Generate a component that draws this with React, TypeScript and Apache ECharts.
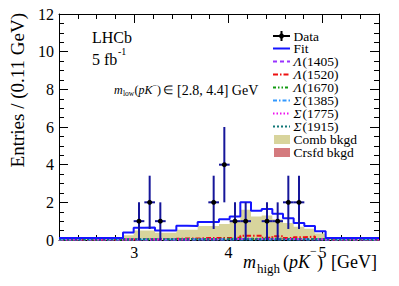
import React, { useEffect, useRef } from "react";
import * as echarts from "echarts";

// Histogram binning (30 bins over the axis range)
const binLo = 2.2;
const binHi = 5.6;
const nBins = 30;

// Data counts per bin
const dataCounts = [0, 0, 0, 0, 0, 0, 0, 1, 2, 1, 0, 0, 0, 0, 2, 4, 1, 1, 0, 1, 1, 2, 2, 0, 0, 0, 0, 0, 0, 0];
// Total fit per bin
const fitVals = [0.1, 0.1, 0.1, 0.1, 0.1, 0.1, 0.4, 0.65, 0.67, 0.5, 0.5, 0.76, 0.74, 0.95, 0.95, 1.1, 1.25, 2.0, 1.55, 1.65, 1.4, 1.15, 0.9, 0.75, 0.46, 0.1, 0.1, 0.1, 0.1, 0.1];
// Combinatorial background
const combVals = [0.05, 0.05, 0.05, 0.05, 0.05, 0.05, 0.25, 0.5, 0.5, 0.38, 0.38, 0.55, 0.55, 0.75, 0.75, 0.85, 1.0, 1.6, 1.25, 1.3, 1.1, 0.9, 0.7, 0.6, 0.35, 0.05, 0.05, 0.05, 0.05, 0.05];
// Cross-feed background
const crsfdVals = [0, 0, 0, 0, 0, 0, 0, 0, 0, 0, 0, 0, 0, 0, 0.03, 0.05, 0.05, 0.08, 0.08, 0.05, 0.08, 0.06, 0.05, 0.06, 0.03, 0, 0, 0, 0, 0];
// Signal components
const l1405Vals = [0.02, 0.02, 0.02, 0.02, 0.02, 0.02, 0.02, 0.03, 0.03, 0.03, 0.03, 0.03, 0.04, 0.04, 0.04, 0.05, 0.05, 0.05, 0.05, 0.05, 0.05, 0.05, 0.05, 0.04, 0.03, 0.02, 0.02, 0.02, 0.02, 0.02];
const l1520Vals = [0.02, 0.02, 0.02, 0.02, 0.02, 0.02, 0.03, 0.04, 0.04, 0.05, 0.06, 0.08, 0.08, 0.1, 0.1, 0.1, 0.12, 0.22, 0.22, 0.12, 0.2, 0.1, 0.15, 0.18, 0.05, 0.02, 0.02, 0.02, 0.02, 0.02];
const l1670Vals = [0.03, 0.03, 0.03, 0.03, 0.03, 0.03, 0.03, 0.04, 0.04, 0.04, 0.04, 0.05, 0.05, 0.05, 0.06, 0.06, 0.06, 0.06, 0.06, 0.06, 0.06, 0.05, 0.05, 0.05, 0.04, 0.03, 0.03, 0.03, 0.03, 0.03];
const s1385Vals = [0.02, 0.02, 0.02, 0.02, 0.02, 0.02, 0.02, 0.02, 0.02, 0.02, 0.02, 0.03, 0.03, 0.03, 0.03, 0.03, 0.03, 0.03, 0.03, 0.03, 0.03, 0.03, 0.03, 0.02, 0.02, 0.02, 0.02, 0.02, 0.02, 0.02];
const s1775Vals = [0.02, 0.02, 0.02, 0.02, 0.02, 0.02, 0.02, 0.03, 0.03, 0.03, 0.03, 0.03, 0.04, 0.04, 0.04, 0.04, 0.05, 0.05, 0.05, 0.05, 0.05, 0.05, 0.04, 0.04, 0.03, 0.02, 0.02, 0.02, 0.02, 0.02];
const s1915Vals = [0.04, 0.04, 0.04, 0.04, 0.04, 0.04, 0.04, 0.04, 0.04, 0.04, 0.04, 0.04, 0.04, 0.04, 0.04, 0.04, 0.04, 0.04, 0.04, 0.04, 0.04, 0.04, 0.04, 0.04, 0.04, 0.04, 0.04, 0.04, 0.04, 0.04];

const xMajorTicks = [3, 4, 5];

const FONT = '"Liberation Serif", "Times New Roman", serif';

const bw = (binHi - binLo) / nBins;
const edges = Array.from({ length: nBins }, (_, i) => binLo + i * bw);

function stepData(vals: number[]) {
  const d = vals.map((v, i) => [edges[i], v]);
  d.push([binHi, vals[vals.length - 1]]);
  return d;
}

const signalDefs = [
  { name: "Λ", num: "(1405)", vals: l1405Vals, color: "#9933ff", dash: [4, 3] },
  { name: "Λ", num: "(1520)", vals: l1520Vals, color: "#ee1111", dash: [5, 2, 1.5, 2] },
  { name: "Λ", num: "(1670)", vals: l1670Vals, color: "#119911", dash: [3, 2, 1.5, 2, 1.5, 2] },
  { name: "Σ", num: "(1385)", vals: s1385Vals, color: "#3399ff", dash: [4, 2, 1.5, 2] },
  { name: "Σ", num: "(1775)", vals: s1775Vals, color: "#ee11ee", dash: [1.5, 2] },
  { name: "Σ", num: "(1915)", vals: s1915Vals, color: "#117777", dash: [2, 2] },
];

function T(text: string, x: number, y: number, size: number, opts: any = {}) {
  return {
    type: "text",
    x,
    y,
    rotation: opts.rotation || 0,
    z: 100,
    style: {
      text,
      fill: "#000",
      font: `${opts.italic ? "italic " : ""}${size}px ${FONT}`,
      textAlign: opts.align || "left",
      textVerticalAlign: "middle",
    },
  };
}

export default function App() {
  const ref = useRef<HTMLDivElement>(null);
  useEffect(() => {
    document.body.style.margin = "0";
    const chart = echarts.init(ref.current!, null, { renderer: "svg" });

    const axisLineStyle = { color: "#000", width: 1 };
    const xBase = {
      type: "value",
      min: binLo,
      max: binHi,
      splitLine: { show: false },
    };

    const dataPts = dataCounts
      .map((n, i) => [binLo + (i + 0.5) * bw, n])
      .filter((d) => d[1] > 0);

    const legendX1 = 273;
    const legendX2 = 290;
    const legendTextX = 293.5;
    const LF = 13.5;
    const rowY = [36, 48.5, 61.5, 74.5, 87.5, 100.5, 113.5, 126.5, 139.5, 152.5];

    const graphics: any[] = [];
    // Legend: Data
    graphics.push({ type: "line", z: 100, shape: { x1: legendX1, y1: rowY[0], x2: legendX2, y2: rowY[0] }, style: { stroke: "#000", lineWidth: 2 } });
    graphics.push({ type: "line", z: 100, shape: { x1: 281.5, y1: rowY[0] - 5, x2: 281.5, y2: rowY[0] + 5 }, style: { stroke: "#000", lineWidth: 2 } });
    graphics.push({ type: "circle", z: 100, shape: { cx: 281.5, cy: rowY[0], r: 2.5 }, style: { fill: "#000" } });
    graphics.push(T("Data", legendTextX, rowY[0], LF));
    // Fit
    graphics.push({ type: "line", z: 100, shape: { x1: legendX1, y1: rowY[1], x2: legendX2, y2: rowY[1] }, style: { stroke: "#1515ff", lineWidth: 2 } });
    graphics.push(T("Fit", legendTextX, rowY[1], LF));
    signalDefs.forEach((s, i) => {
      const y = rowY[2 + i];
      graphics.push({ type: "line", z: 100, shape: { x1: legendX1, y1: y, x2: legendX2, y2: y }, style: { stroke: s.color, lineWidth: 2, lineDash: s.dash } });
      graphics.push(T(s.name, legendTextX, y, LF, { italic: true }));
      graphics.push(T(s.num, legendTextX + 9, y, LF));
    });
    graphics.push({ type: "rect", z: 100, shape: { x: legendX1 + 1, y: rowY[8] - 4.5, width: 16, height: 9 }, style: { fill: "#d8d49c" } });
    graphics.push(T("Comb bkgd", legendTextX, rowY[8], LF));
    graphics.push({ type: "rect", z: 100, shape: { x: legendX1 + 1, y: rowY[9] - 4.5, width: 16, height: 9 }, style: { fill: "#d47a7e" } });
    graphics.push(T("Crsfd bkgd", legendTextX, rowY[9], LF));

    // LHCb labels
    graphics.push(T("LHCb", 92, 37, 16));
    graphics.push(T("5 fb", 92, 59, 16));
    graphics.push(T("-1", 118, 51.5, 10));

    // m_low text
    graphics.push(T("m", 114, 90, 12, { italic: true }));
    graphics.push(T("low", 123, 93.5, 7.5));
    graphics.push(T("(", 134.5, 90, 12));
    graphics.push(T("pK", 138.5, 90, 12, { italic: true }));
    graphics.push(T("−", 152.5, 85, 8));
    graphics.push(T(")", 157, 90, 12));
    graphics.push(T("∈", 163, 90, 12));
    graphics.push(T("[2.8, 4.4] GeV", 177, 90, 14));

    // Y title
    graphics.push(T("Entries / (0.11 GeV)", 17, 13, 19, { align: "right", rotation: Math.PI / 2 }));

    // X title
    graphics.push(T("m", 243, 262, 18, { italic: true }));
    graphics.push(T("high", 257, 268.5, 13));
    graphics.push(T("(", 283, 262, 18));
    graphics.push(T("pK", 289, 262, 18, { italic: true }));
    graphics.push(T("−", 310, 250.5, 12));
    graphics.push(T(")", 317, 262, 18));
    graphics.push(T("[GeV]", 331, 262, 18));

    const option: any = {
      animation: false,
      grid: { left: 59, right: 20, top: 14, bottom: 46, containLabel: false },
      xAxis: [
        {
          ...xBase,
          position: "bottom",
          interval: 0.2,
          axisLine: { show: true, onZero: false, lineStyle: axisLineStyle },
          axisTick: { show: true, inside: true, length: 5, lineStyle: axisLineStyle },
          axisLabel: { show: false },
        },
        {
          ...xBase,
          position: "bottom",
          axisLine: { show: false, onZero: false },
          axisTick: { show: true, inside: true, length: 9, customValues: xMajorTicks, lineStyle: axisLineStyle },
          axisLabel: { show: true, customValues: xMajorTicks, color: "#000", fontFamily: FONT, fontSize: 16, margin: 4 },
        },
        {
          ...xBase,
          position: "top",
          interval: 0.2,
          axisLine: { show: true, onZero: false, lineStyle: axisLineStyle },
          axisTick: { show: true, inside: true, length: 5, lineStyle: axisLineStyle },
          axisLabel: { show: false },
        },
        {
          ...xBase,
          position: "top",
          axisLine: { show: false, onZero: false },
          axisTick: { show: true, inside: true, length: 9, customValues: xMajorTicks, lineStyle: axisLineStyle },
          axisLabel: { show: false },
        },
      ],
      yAxis: [
        {
          type: "value",
          min: 0,
          max: 12,
          interval: 2,
          position: "left",
          splitLine: { show: false },
          axisLine: { show: true, onZero: false, lineStyle: axisLineStyle },
          axisTick: { show: true, inside: true, length: 9, lineStyle: axisLineStyle },
          minorTick: { show: true, splitNumber: 4, length: 5, lineStyle: axisLineStyle },
          axisLabel: { color: "#000", fontFamily: FONT, fontSize: 16, margin: 5 },
        },
        {
          type: "value",
          min: 0,
          max: 12,
          interval: 2,
          position: "right",
          splitLine: { show: false },
          axisLine: { show: true, onZero: false, lineStyle: axisLineStyle },
          axisTick: { show: true, inside: true, length: 9, lineStyle: axisLineStyle },
          minorTick: { show: true, splitNumber: 4, length: 5, lineStyle: axisLineStyle },
          axisLabel: { show: false },
        },
      ],
      series: [
        {
          name: "Comb bkgd",
          type: "line",
          step: "end",
          data: stepData(combVals),
          symbol: "none",
          lineStyle: { width: 0, color: "#d8d49c" },
          areaStyle: { color: "#d8d49c", opacity: 1 },
          z: 1,
          silent: true,
        },
        {
          name: "Crsfd bkgd",
          type: "line",
          step: "end",
          data: stepData(crsfdVals),
          symbol: "none",
          lineStyle: { width: 0, color: "#d47a7e" },
          areaStyle: { color: "#d47a7e", opacity: 1 },
          z: 2,
          silent: true,
        },
        ...signalDefs.map((s, i) => ({
          name: s.name + s.num,
          type: "line",
          step: "end",
          data: stepData(s.vals),
          symbol: "none",
          lineStyle: { width: 2, color: s.color, type: s.dash },
          z: 3 + i * 0.1,
          silent: true,
        })),
        {
          name: "Fit",
          type: "line",
          step: "end",
          data: stepData(fitVals),
          symbol: "none",
          lineStyle: { width: 2, color: "#1515ff" },
          z: 4,
          silent: true,
        },
        {
          name: "Data",
          type: "custom",
          data: dataPts,
          z: 5,
          silent: true,
          renderItem: (params: any, api: any) => {
            const x = api.value(0);
            const n = api.value(1);
            const e = Math.sqrt(n);
            const c = api.coord([x, n]);
            const top = api.coord([x, n + e]);
            const bot = api.coord([x, n - e]);
            const l = api.coord([x - bw / 2, n]);
            const r = api.coord([x + bw / 2, n]);
            const col = "#16169a";
            return {
              type: "group",
              children: [
                { type: "line", shape: { x1: c[0], y1: top[1], x2: c[0], y2: bot[1] }, style: { stroke: col, lineWidth: 2 } },
                { type: "line", shape: { x1: l[0], y1: c[1], x2: r[0], y2: c[1] }, style: { stroke: col, lineWidth: 2 } },
                { type: "circle", shape: { cx: c[0], cy: c[1], r: 2.5 }, style: { fill: "#000" } },
              ],
            };
          },
        },
      ],
      graphic: graphics,
    };
    chart.setOption(option);
    return () => chart.dispose();
  }, []);
  return <div ref={ref} style={{ width: 399, height: 286 }} />;
}
